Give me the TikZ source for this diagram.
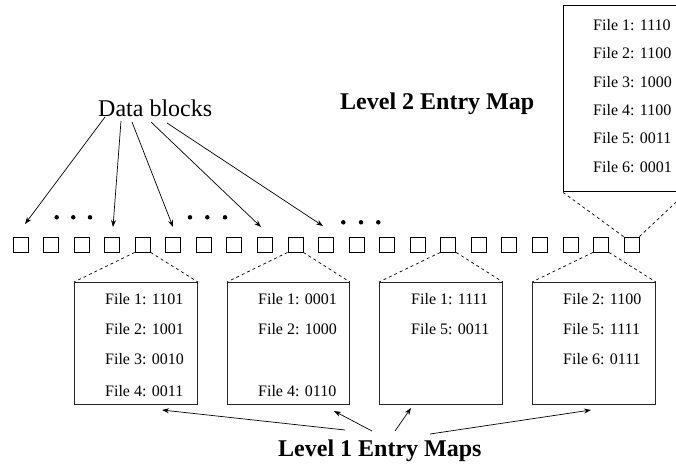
\documentclass[tikz,border=0pt]{standalone}
\usepackage{fontspec}
\setmainfont{Liberation Serif}
\usetikzlibrary{arrows.meta}
\begin{document}
\begin{tikzpicture}[x=1pt,y=-1pt,
  blk/.style={draw, line width=0.8pt, minimum size=15pt, inner sep=0pt, anchor=center},
  mapbox/.style={draw=black!85, line width=0.9pt, inner sep=0pt, anchor=north west},
  ftxt/.style={font=\fontsize{16}{18}\selectfont, inner sep=0pt, anchor=west},
  big/.style={font=\fontsize{24}{28}\selectfont, inner sep=0pt, anchor=base west},
  arr/.style={-{Stealth[length=7pt,width=5pt]}, line width=0.7pt},
  dsh/.style={dash pattern=on 3pt off 3pt, line width=0.7pt},
  blob/.style={circle, fill, inner sep=0pt, minimum size=4.5pt}]
\useasboundingbox (0,0) rectangle (676,466);
\clip (0,0) rectangle (676,466);

% row of data blocks
\foreach \i in {0,...,20} \node[blk] (s\i) at ({20.5+30.55*\i},244.5) {};

% dots
\foreach \x/\n in {56.7/a1,73.3/a2,90/a3,190/a4,207.3/a5,225/a6}
  \node[blob] (\n) at (\x,217.3) {};
\foreach \x/\n in {343.3/c1,361/c2,378.3/c3}
  \node[blob] (\n) at (\x,222.3) {};

% labels
\node[big] (db) at (98,116.5) {Data blocks};
\node[big, font=\fontsize{24}{28}\selectfont\bfseries] (l2) at (340,109.5) {Level 2 Entry Map};
\node[big, font=\fontsize{24}{28}\selectfont\bfseries] (l1) at (278,456) {Level 1 Entry Maps};

% data block arrows
\coordinate (p1) at (105,117); \coordinate (q1) at (25,224);
\coordinate (p2) at (121,121); \coordinate (q2) at (113,227);
\coordinate (p3) at (132,122); \coordinate (q3) at (173,227);
\coordinate (p4) at (151,122); \coordinate (q4) at (261,227);
\coordinate (p5) at (167,123); \coordinate (q5) at (323,226);
\foreach \k in {1,...,5} \draw[arr] (p\k) -- (q\k);

% level 1 boxes
\node[mapbox, minimum width=123pt, minimum height=122pt] (b1) at (74,282) {};
\node[mapbox, minimum width=122pt, minimum height=122pt] (b2) at (227,282) {};
\node[mapbox, minimum width=123pt, minimum height=122pt] (b3) at (379,282) {};
\node[mapbox, minimum width=123pt, minimum height=122pt] (b4) at (532,282) {};

\node[ftxt] (t11) at (105,299) {File 1: 1101};
\node[ftxt] (t12) at (105,329) {File 2: 1001};
\node[ftxt] (t13) at (105,359.5) {File 3: 0010};
\node[ftxt] (t14) at (105,391) {File 4: 0011};

\node[ftxt] (t21) at (258,299) {File 1: 0001};
\node[ftxt] (t22) at (258,329) {File 2: 1000};
\node[ftxt] (t24) at (258,391) {File 4: 0110};

\node[ftxt] (t31) at (411,299) {File 1: 1111};
\node[ftxt] (t35) at (411,329) {File 5: 0011};

\node[ftxt] (t42) at (563,299) {File 2: 1100};
\node[ftxt] (t45) at (563,329) {File 5: 1111};
\node[ftxt] (t46) at (563,359.5) {File 6: 0111};

% dashed expansions
\draw[dsh] (s4.south west) -- (b1.north west);
\draw[dsh] (s4.south east) -- (b1.north east);
\draw[dsh] (s9.south west) -- (b2.north west);
\draw[dsh] (s9.south east) -- (b2.north east);
\draw[dsh] (s14.south west) -- (b3.north west);
\draw[dsh] (s14.south east) -- (b3.north east);
\draw[dsh] (s19.south west) -- (b4.north west);
\draw[dsh] (s19.south east) -- (b4.north east);

% level 2 box
\node[mapbox, line width=1.4pt, draw=black, minimum width=122pt, minimum height=186pt] (m) at (563,5) {};
\node[ftxt] (m1) at (593,25) {File 1: 1110};
\node[ftxt] (m2) at (593,53.5) {File 2: 1100};
\node[ftxt] (m3) at (593,82) {File 3: 1000};
\node[ftxt] (m4) at (593,110) {File 4: 1100};
\node[ftxt] (m5) at (593,138.5) {File 5: 0011};
\node[ftxt] (m6) at (593,167) {File 6: 0001};
\draw[dsh] (s20.north west) -- (m.south west);
\draw[dsh] (s20.north east) -- (m.south east);

% level 1 arrows
\coordinate (u1) at (345,430); \coordinate (v1) at (162,410);
\coordinate (u2) at (372,431); \coordinate (v2) at (334,411);
\coordinate (u3) at (395,431); \coordinate (v3) at (411,408);
\coordinate (u4) at (430,434); \coordinate (v4) at (591,410);
\foreach \k in {1,...,4} \draw[arr] (u\k) -- (v\k);
\end{tikzpicture}
\end{document}
